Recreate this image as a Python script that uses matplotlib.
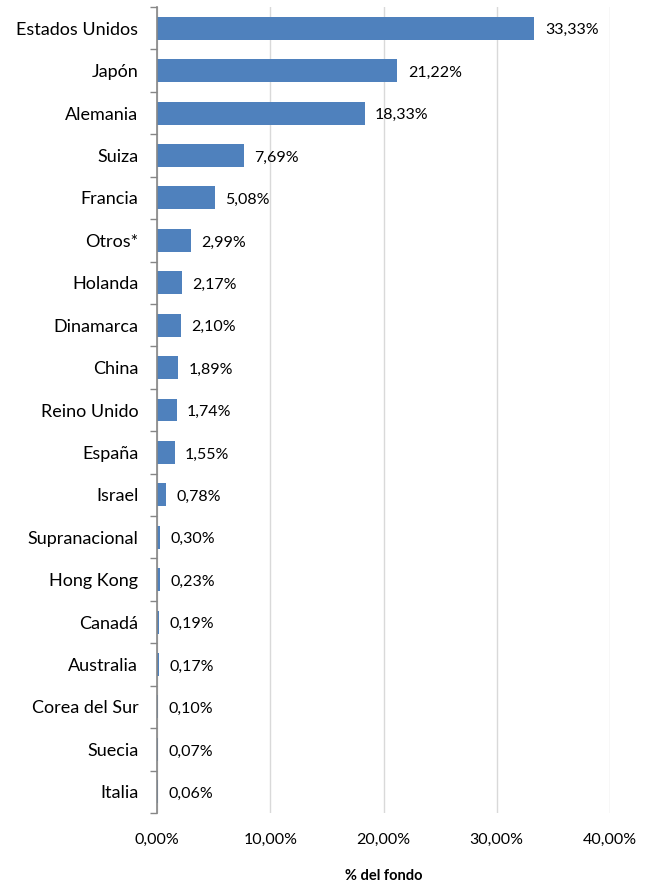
import matplotlib
matplotlib.use("Agg")
import matplotlib.pyplot as plt
from matplotlib.ticker import FixedLocator, FuncFormatter

countries = ["Estados Unidos", "Japón", "Alemania", "Suiza", "Francia", "Otros*",
             "Holanda", "Dinamarca", "China", "Reino Unido", "España", "Israel",
             "Supranacional", "Hong Kong", "Canadá", "Australia", "Corea del Sur",
             "Suecia", "Italia"]
values = [33.33, 21.22, 18.33, 7.69, 5.08, 2.99, 2.17, 2.10, 1.89, 1.74, 1.55,
          0.78, 0.30, 0.23, 0.19, 0.17, 0.10, 0.07, 0.06]
xticks = [0, 10, 20, 30, 40]

plt.rcParams['font.family'] = ['Lato', 'DejaVu Sans']

fig = plt.figure(figsize=(6.52, 8.86), dpi=100)
ax = fig.add_axes([157/652, (886-813)/886, (610-157)/652, (813-7)/886])

n = len(countries)
ypos = list(range(n))
ax.barh(ypos, values, height=0.54, color="#4F81BD", zorder=3)
ax.set_ylim(n - 0.5, -0.5)
ax.set_xlim(0, 40)

for y, v in zip(ypos, values):
    ax.annotate(f"{v:.2f}%".replace(".", ","), xy=(v, y), xytext=(7.5, -1.5),
                textcoords="offset points", va="center", ha="left", fontsize=11.5)

ax.set_yticks(ypos)
ax.set_yticklabels(countries, fontsize=13)
ax.yaxis.set_minor_locator(FixedLocator([i - 0.5 for i in range(n + 1)]))
ax.tick_params(axis="y", which="major", length=0, pad=13.5)
ax.tick_params(axis="y", which="minor", length=5, color="#868686", width=1)

ax.set_xticks(xticks)
ax.xaxis.set_major_formatter(FuncFormatter(lambda x, p: f"{x:.2f}%".replace(".", ",")))
ax.tick_params(axis="x", length=0, pad=14, labelsize=11.5)
ax.grid(axis="x", color="#D9D9D9", linewidth=1, zorder=0)

for s in ["top", "right", "bottom"]:
    ax.spines[s].set_visible(False)
ax.spines["left"].set_color("#868686")
ax.spines["left"].set_linewidth(1.2)
ax.spines["left"].set_zorder(4)

fig.text((157 + 610) / 2 / 652, 1 - 876 / 886, "% del fondo", fontsize=10.5,
         fontweight="bold", ha="center", va="center")

fig.savefig("out.png", dpi=100)
